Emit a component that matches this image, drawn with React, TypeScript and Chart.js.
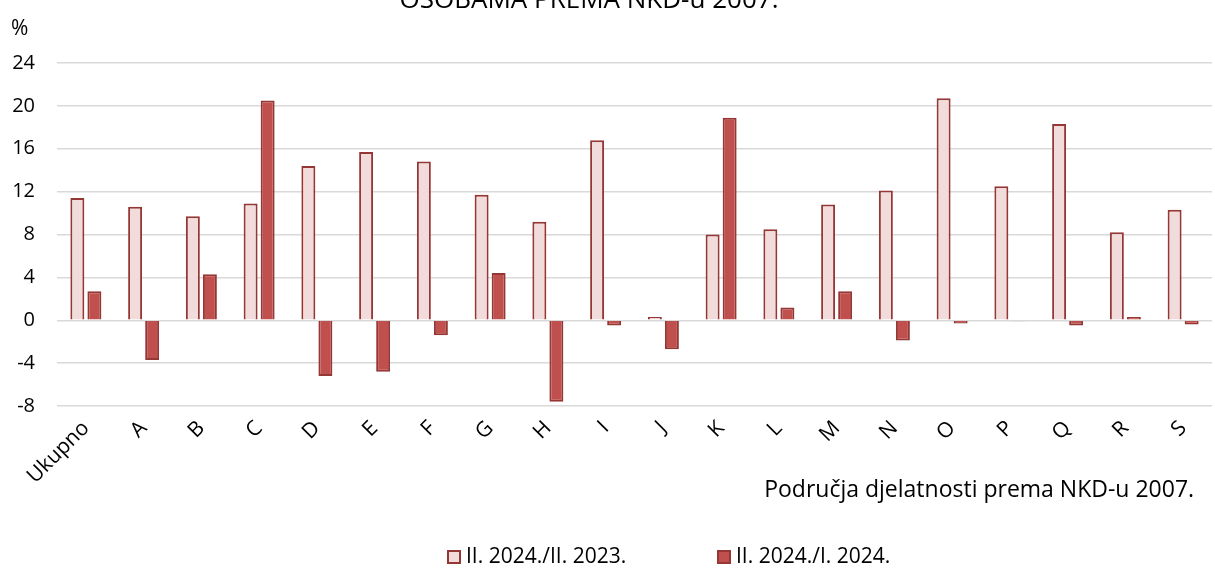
import React, { useEffect, useRef } from "react";
import { Chart, registerables } from "chart.js";

Chart.register(...registerables);

const categories = ["Ukupno", "A", "B", "C", "D", "E", "F", "G", "H", "I", "J", "K", "L", "M", "N", "O", "P", "Q", "R", "S"];
const yoyLabel = "II. 2024./II. 2023.";
const momLabel = "II. 2024./I. 2024.";
const yoyValues = [11.4, 10.6, 9.7, 10.9, 14.4, 15.7, 14.8, 11.7, 9.2, 16.8, 0.3, 8.0, 8.5, 10.8, 12.1, 20.7, 12.5, 18.3, 8.2, 10.3];
const momValues = [2.7, -3.7, 4.3, 20.5, -5.2, -4.8, -1.4, 4.4, -7.6, -0.5, -2.7, 18.9, 1.2, 2.7, -1.9, -0.3, -0.1, -0.5, 0.3, -0.4];
const yTicks = [-8, -4, 0, 4, 8, 12, 16, 20, 24];
const chartTitle = "OSOBAMA PREMA NKD-u 2007.";
const unitLabel = "%";
const xTitle = "Područja djelatnosti prema NKD-u 2007.";

const FONT = "'Open Sans', sans-serif";
const lightFill = "#F2DCDB";
const darkFill = "#C0504D";
const barBorder = "#953735";

const extrasPlugin = {
  id: "extras",
  afterDraw(chart: any) {
    const ctx = chart.ctx;
    ctx.save();
    ctx.fillStyle = "#000";
    ctx.font = `26px ${FONT}`;
    ctx.textAlign = "center";
    ctx.textBaseline = "alphabetic";
    ctx.fillText(chartTitle, 589, 8);
    ctx.font = `21px ${FONT}`;
    ctx.textAlign = "left";
    ctx.textBaseline = "middle";
    ctx.fillText(unitLabel, 11, 29);
    const items = chart.data.datasets.map((d: any) => ({ text: d.label, fill: d.backgroundColor, stroke: d.borderColor }));
    let x = 447;
    const yMid = 557;
    ctx.font = `21px ${FONT}`;
    items.forEach((it: any) => {
      ctx.fillStyle = it.fill;
      ctx.strokeStyle = it.stroke;
      ctx.lineWidth = 2;
      ctx.fillRect(x + 1, yMid - 6, 12, 12);
      ctx.strokeRect(x + 1, yMid - 6, 12, 12);
      ctx.fillStyle = "#000";
      ctx.textAlign = "left";
      ctx.textBaseline = "middle";
      ctx.fillText(it.text, x + 19, yMid);
      x += 270;
    });
    ctx.restore();
  },
};

export default function App() {
  const ref = useRef<HTMLCanvasElement | null>(null);
  useEffect(() => {
    if (!ref.current) return;
    const chart = new Chart(ref.current, {
      type: "bar",
      data: {
        labels: categories,
        datasets: [
          { label: yoyLabel, data: yoyValues, backgroundColor: lightFill, borderColor: barBorder, borderWidth: 2 },
          { label: momLabel, data: momValues, backgroundColor: darkFill, borderColor: barBorder, borderWidth: 2 },
        ],
      },
      options: {
        animation: false,
        responsive: true,
        maintainAspectRatio: false,
        layout: { padding: { top: 63, right: 3, bottom: 64, left: 0 } },
        datasets: { bar: { barPercentage: 0.82, categoryPercentage: 0.59 } },
        plugins: { legend: { display: false }, tooltip: { enabled: false }, title: { display: false } },
        scales: {
          x: {
            grid: { display: false },
            border: { display: false },
            ticks: { color: "#000", font: { family: FONT, size: 21 }, minRotation: 45, maxRotation: 45, padding: 2 },
            title: { display: true, text: xTitle + "   ", align: "end", color: "#000", font: { family: FONT, size: 23 }, padding: { top: 0, bottom: 0 } },
            afterFit: (s: any) => { s.height = 98; },
          },
          y: {
            min: -8,
            max: 24,
            afterBuildTicks: (s: any) => { s.ticks = yTicks.map((v) => ({ value: v })); },
            grid: { color: "#d9d9d9", lineWidth: 1.5, drawTicks: false },
            border: { display: false },
            ticks: { color: "#000", font: { family: FONT, size: 20 }, padding: 22 },
            afterFit: (s: any) => { s.width = 57; },
          },
        },
      },
      plugins: [extrasPlugin],
    });
    return () => chart.destroy();
  }, []);
  return (
    <div style={{ position: "fixed", left: 0, top: 0, width: 1215, height: 568, background: "#fff" }}>
      <canvas ref={ref} />
    </div>
  );
}
